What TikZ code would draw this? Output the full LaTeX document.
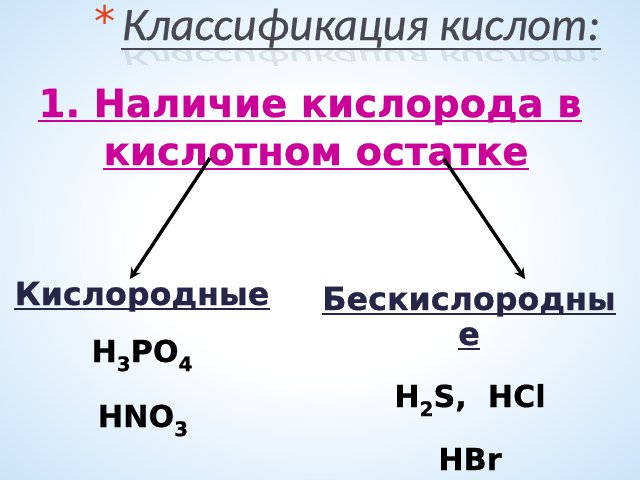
\documentclass[tikz,border=0pt]{standalone}
\usepackage{fontspec}
\setmainfont{DejaVu Sans}[BoldFont={DejaVu Sans Bold}, BoldFeatures={FakeBold=0.6}]
\newfontfamily\titlefont{Carlito}[ItalicFeatures={FakeBold=0.4}]
\usetikzlibrary{arrows, positioning, shadings}
\definecolor{slideblue}{RGB}{165,210,245}
\definecolor{keymagenta}{RGB}{204,0,153}
\definecolor{headnavy}{RGB}{38,38,72}
\definecolor{titlegray}{RGB}{72,72,82}
\definecolor{starred}{RGB}{232,64,24}
\pgfdeclareradialshading{slidebg}{\pgfpoint{0bp}{0bp}}{color(0bp)=(white); color(14bp)=(white); color(50bp)=(slideblue); color(100bp)=(slideblue)}
\newcommand{\ind}[1]{\raisebox{-0.3em}{\scalebox{0.66}{#1}}}
\frenchspacing

\begin{document}
\begin{tikzpicture}[x=0.025cm, y=-0.025cm,
    txt/.style={inner sep=0pt, anchor=base},
    keyline/.style={txt, keymagenta, font=\bfseries\fontsize{27.5}{32}\selectfont},
    acidhead/.style={txt, headnavy, font=\bfseries\fontsize{22.6}{27}\selectfont},
    formula/.style={txt, black, font=\bfseries\fontsize{21.5}{26}\selectfont}]
    % Fon slajda
    \shade[shading=slidebg] (0,0) rectangle (640,480);
    \useasboundingbox (0,0) rectangle (640,480);
    % Zagolovok
    \node[txt, starred, font=\fontsize{30}{30}\selectfont] (star) at (105,36) {*};
    \node[txt, titlegray, font=\titlefont\itshape\fontsize{33}{38}\selectfont] (title) at (361,40) {Классификация кислот:};
    \node[anchor=north, inner sep=0pt, opacity=0.12, titlegray, font=\titlefont\itshape\fontsize{33}{38}\selectfont] (mirror) at (361,46) {\scalebox{1}[-0.5]{Классификация кислот:}};
    \draw[titlegray, line width=1.6pt] ([yshift=-6.5pt]title.base west) -- ([yshift=-6.5pt]title.base east);
    % Priznak klassifikacii
    \node[keyline] (line1) at (310,117) {1. Наличие кислорода в};
    \node[keyline] (line2) at (316,165) {кислотном остатке};
    \draw[keymagenta, line width=1.4pt] ([yshift=-3pt]line1.base west) -- ([yshift=-3pt]line1.base east);
    \draw[keymagenta, line width=1.4pt] ([yshift=-2.5pt]line2.base west) -- ([yshift=-2.5pt]line2.base east);
    % Gruppy kislot
    \node[acidhead] (oxy) at (142,305) {Кислородные};
    \node[acidhead] (nonoxy) at (469,310) {Бескислородны};
    \node[acidhead] (nonoxyend) at (469,345) {е};
    \foreach \n in {oxy, nonoxy, nonoxyend}
        \draw[headnavy, line width=1.3pt] ([yshift=-3pt]\n.base west) -- ([yshift=-3pt]\n.base east);
    % Primery
    \node[formula] (hpo) at (142,362) {H\ind{3}PO\ind{4}};
    \node[formula] (hno) at (143,427) {HNO\ind{3}};
    \node[formula] (hs) at (470,407) {H\ind{2}S,\ \ HCl};
    \node[formula] (hbr) at (470,470) {HBr};
    % Strelki
    \coordinate (lstart) at (210,158);
    \coordinate (lend) at (130,279);
    \coordinate (rstart) at (444,159);
    \coordinate (rend) at (525,279);
    \draw[-stealth, line width=2.4pt] (lstart) -- (lend);
    \draw[-stealth, line width=2.4pt] (rstart) -- (rend);
\end{tikzpicture}
\end{document}
